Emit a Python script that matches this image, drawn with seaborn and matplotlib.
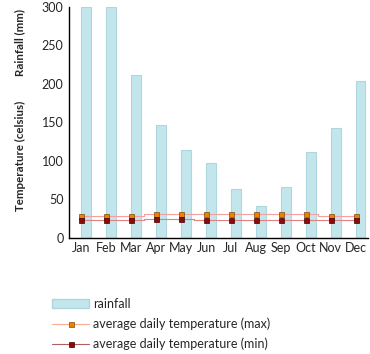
import numpy as np
import pandas as pd
import matplotlib
matplotlib.use('Agg')
import matplotlib.pyplot as plt
import seaborn as sns
from matplotlib.patches import Patch
from matplotlib.lines import Line2D

# valores
months = ['Jan', 'Feb', 'Mar', 'Apr', 'May', 'Jun', 'Jul', 'Aug', 'Sep', 'Oct', 'Nov', 'Dec']
rainfall = [300, 300, 211, 147, 114, 97, 63, 42, 66, 112, 142, 203]
temp_max = [29, 29, 29, 31, 31, 31, 31, 31, 31, 31, 29, 29]
temp_min = [23, 23, 23, 24, 24, 23, 23, 23, 23, 23, 23, 23]

df = pd.DataFrame({'month': months, 'rainfall': rainfall,
                   'tmax': temp_max, 'tmin': temp_min})
df['x'] = np.arange(len(df))

sns.set_style('white')
plt.rcParams['font.family'] = ['Lato', 'DejaVu Sans']

fig = plt.figure(figsize=(3.7, 3.54), dpi=100)
ax = fig.add_axes([0.1865, 0.328, 0.808, 0.653])

bar_c = '#c2e6ec'
ax.bar(df['x'], df['rainfall'], width=0.4, align='edge',
       color=bar_c, edgecolor='#aed6de', linewidth=0.8, zorder=1)

sns.lineplot(data=df, x='x', y='tmax', ax=ax, color='#f4a0a0', linewidth=0.8,
             drawstyle='steps-mid', marker='s', markersize=3.6,
             markerfacecolor='#f08000', markeredgecolor='#7a4a10',
             markeredgewidth=0.5, zorder=3)
sns.lineplot(data=df, x='x', y='tmin', ax=ax, color='#e08080', linewidth=0.8,
             drawstyle='steps-mid', marker='s', markersize=3.6,
             markerfacecolor='#8b0a0a', markeredgecolor='#400000',
             markeredgewidth=0.5, zorder=3)

ax.set_xlim(-0.5, 11.5)
ax.set_ylim(0, 300)
ax.set_xticks(df['x'])
ax.set_xticklabels(months)
ax.set_xticks(np.arange(0.5, 11.5, 1), minor=True)
ax.set_yticks([0, 50, 100, 150, 200, 250, 300])
ax.tick_params(axis='x', which='major', length=0, labelsize=9, pad=3)
ax.tick_params(axis='x', which='minor', direction='in', length=6, width=1, color='black')
ax.tick_params(axis='y', direction='in', length=9, width=1, color='black', labelsize=9, pad=4)
ax.set_xlabel('')
ax.set_ylabel('')
for s in ['top', 'right']:
    ax.spines[s].set_visible(False)
for s in ['left', 'bottom']:
    ax.spines[s].set_color('black')
    ax.spines[s].set_linewidth(1)

fig.text(0.054, 0.88, 'Rainfall (mm)', rotation=90, ha='center', va='center',
         fontsize=8.3, fontweight='bold')
fig.text(0.054, 0.56, 'Temperature (celsius)', rotation=90, ha='center', va='center',
         fontsize=8.3, fontweight='bold')

handles = [
    Patch(facecolor=bar_c, edgecolor='#aed6de'),
    Line2D([], [], color='#f4b090', linewidth=0.8, marker='s', markersize=3.6,
           markerfacecolor='#f08000', markeredgecolor='#7a4a10', markeredgewidth=0.5),
    Line2D([], [], color='#b06060', linewidth=0.8, marker='s', markersize=3.6,
           markerfacecolor='#8b0a0a', markeredgecolor='#400000', markeredgewidth=0.5),
]
labels = ['rainfall', 'average daily temperature (max)', 'average daily temperature (min)']
fig.legend(handles, labels, loc='upper left', bbox_to_anchor=(0.14, 0.158),
           frameon=False, fontsize=9, handlelength=3.0, handletextpad=0.3,
           labelspacing=0.6, borderaxespad=0, borderpad=0)

fig.savefig('out.png', dpi=100)
